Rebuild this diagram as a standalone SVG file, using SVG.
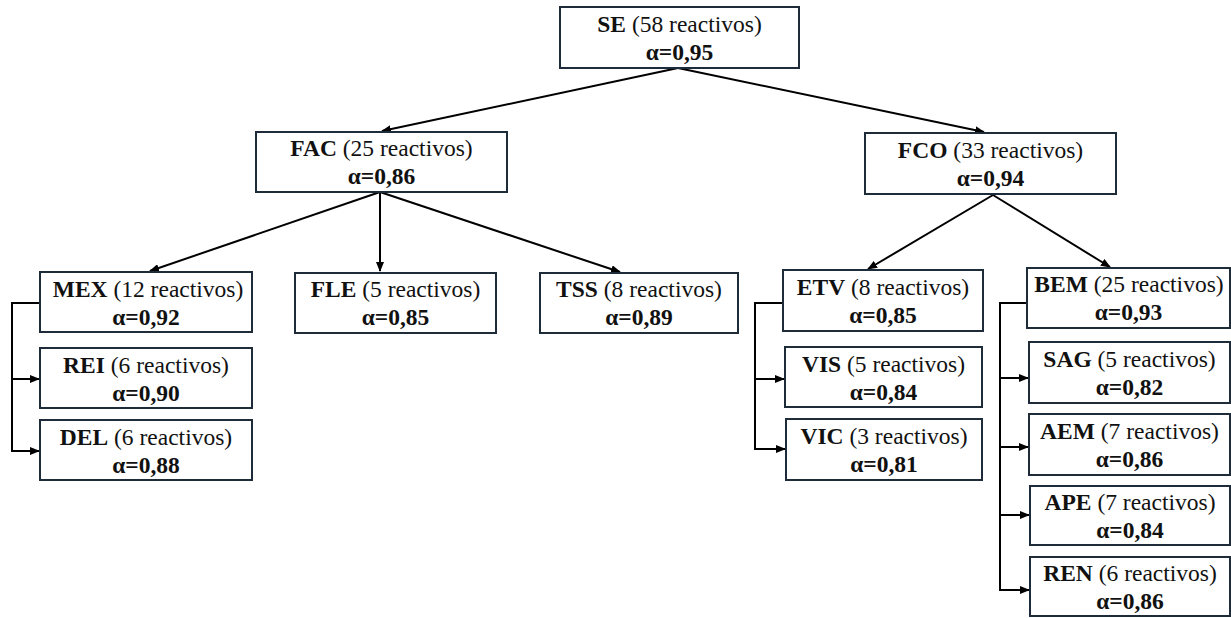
<svg xmlns="http://www.w3.org/2000/svg" width="1231" height="618" viewBox="0 0 1231 618">
<style>
rect.b{fill:#fff;stroke:#1e2c3a;stroke-width:2}
text{font-family:'Liberation Serif','Times New Roman',serif;font-size:23.5px;fill:#111;text-anchor:middle}
.bd{font-weight:bold}
.c{fill:none;stroke:#000;stroke-width:2}
</style>
<defs>
<marker id="ah" markerWidth="10" markerHeight="8" refX="9" refY="4" orient="auto" markerUnits="userSpaceOnUse">
<path d="M0,0 L10,4 L0,8 Z" fill="#000"/>
</marker>
</defs>
<rect width="1231" height="618" fill="#fff"/>
<g id="connectors">
<path class="c" d="M678,68 L382,131" marker-end="url(#ah)"/>
<path class="c" d="M678,68 L984,132" marker-end="url(#ah)"/>
<path class="c" d="M380,192 L150,271" marker-end="url(#ah)"/>
<path class="c" d="M380,192 L380,271" marker-end="url(#ah)"/>
<path class="c" d="M380,192 L620,272" marker-end="url(#ah)"/>
<path class="c" d="M993,195 L868,269" marker-end="url(#ah)"/>
<path class="c" d="M993,195 L1110,267" marker-end="url(#ah)"/>
<path class="c" d="M40,303 H12 V451 H39" marker-end="url(#ah)"/>
<path class="c" d="M12,379 H39" marker-end="url(#ah)"/>
<path class="c" d="M783,303 H755 V449 H785" marker-end="url(#ah)"/>
<path class="c" d="M755,379 H784" marker-end="url(#ah)"/>
<path class="c" d="M1027,303 H1000 V590 H1029" marker-end="url(#ah)"/>
<path class="c" d="M1000,378 H1028" marker-end="url(#ah)"/>
<path class="c" d="M1000,447 H1028" marker-end="url(#ah)"/>
<path class="c" d="M1000,515 H1029" marker-end="url(#ah)"/>
</g>
<g id="SE"><rect class="b" x="560" y="7" width="239" height="61"/>
<text x="679.5" y="32"><tspan class="bd">SE</tspan> (58 reactivos)</text>
<text x="679.5" y="60" class="bd">α=0,95</text></g>
<g id="FAC"><rect class="b" x="256" y="132" width="251" height="60"/>
<text x="381.5" y="156"><tspan class="bd">FAC</tspan> (25 reactivos)</text>
<text x="381.5" y="184" class="bd">α=0,86</text></g>
<g id="FCO"><rect class="b" x="865" y="133" width="251" height="61"/>
<text x="990.5" y="158"><tspan class="bd">FCO</tspan> (33 reactivos)</text>
<text x="990.5" y="186" class="bd">α=0,94</text></g>
<g id="MEX"><rect class="b" x="40" y="272" width="212" height="60"/>
<text x="148" y="297"><tspan class="bd">MEX</tspan> (12 reactivos)</text>
<text x="146" y="325" class="bd">α=0,92</text></g>
<g id="REI"><rect class="b" x="40" y="348" width="212" height="60"/>
<text x="146" y="373"><tspan class="bd">REI</tspan> (6 reactivos)</text>
<text x="146" y="401" class="bd">α=0,90</text></g>
<g id="DEL"><rect class="b" x="40" y="420" width="212" height="60"/>
<text x="146" y="445"><tspan class="bd">DEL</tspan> (6 reactivos)</text>
<text x="146" y="473" class="bd">α=0,88</text></g>
<g id="FLE"><rect class="b" x="295" y="273" width="201" height="60"/>
<text x="395.5" y="297"><tspan class="bd">FLE</tspan> (5 reactivos)</text>
<text x="395.5" y="325" class="bd">α=0,85</text></g>
<g id="TSS"><rect class="b" x="540" y="273" width="198" height="60"/>
<text x="639" y="297"><tspan class="bd">TSS</tspan> (8 reactivos)</text>
<text x="639" y="325" class="bd">α=0,89</text></g>
<g id="ETV"><rect class="b" x="783" y="270" width="200" height="61"/>
<text x="883" y="295"><tspan class="bd">ETV</tspan> (8 reactivos)</text>
<text x="883" y="323" class="bd">α=0,85</text></g>
<g id="VIS"><rect class="b" x="785" y="347" width="197" height="60"/>
<text x="883.5" y="372"><tspan class="bd">VIS</tspan> (5 reactivos)</text>
<text x="883.5" y="400" class="bd">α=0,84</text></g>
<g id="VIC"><rect class="b" x="786" y="419" width="196" height="61"/>
<text x="884" y="444"><tspan class="bd">VIC</tspan> (3 reactivos)</text>
<text x="884" y="472" class="bd">α=0,81</text></g>
<g id="BEM"><rect class="b" x="1027" y="268" width="203" height="60"/>
<text x="1129" y="292"><tspan class="bd">BEM</tspan> (25 reactivos)</text>
<text x="1128.5" y="320" class="bd">α=0,93</text></g>
<g id="SAG"><rect class="b" x="1029" y="342" width="201" height="61"/>
<text x="1129.5" y="367"><tspan class="bd">SAG</tspan> (5 reactivos)</text>
<text x="1129.5" y="395" class="bd">α=0,82</text></g>
<g id="AEM"><rect class="b" x="1029" y="414" width="201" height="61"/>
<text x="1129.5" y="439"><tspan class="bd">AEM</tspan> (7 reactivos)</text>
<text x="1129.5" y="467" class="bd">α=0,86</text></g>
<g id="APE"><rect class="b" x="1030" y="486" width="200" height="59"/>
<text x="1130" y="510"><tspan class="bd">APE</tspan> (7 reactivos)</text>
<text x="1130" y="538" class="bd">α=0,84</text></g>
<g id="REN"><rect class="b" x="1030" y="557" width="200" height="59"/>
<text x="1130" y="581"><tspan class="bd">REN</tspan> (6 reactivos)</text>
<text x="1130" y="609" class="bd">α=0,86</text></g>
</svg>
